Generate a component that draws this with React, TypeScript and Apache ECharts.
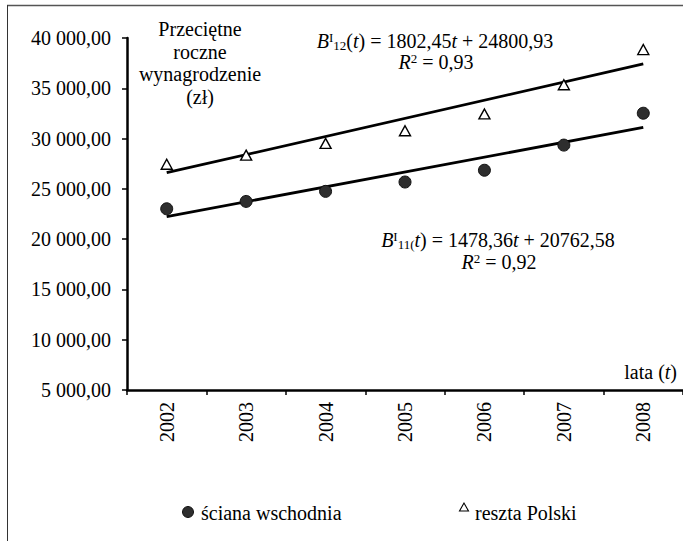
import React, { useEffect, useRef } from "react";
import * as echarts from "echarts";

const years = ["2002", "2003", "2004", "2005", "2006", "2007", "2008"];
const eastWall = [23020, 23750, 24750, 25680, 26850, 29350, 32520];
const restPoland = [27450, 28350, 29520, 30780, 32450, 35350, 38850];
const eastTrendEnds = [22241, 31111];
const restTrendEnds = [26603, 37418];
const yTicks = { min: 5000, max: 40000, step: 5000 };

const FONT = "Liberation Serif";

const fmt = (v: number) => {
  const s = Math.round(v).toString().replace(/\B(?=(\d{3})+(?!\d))/g, " ");
  return s + ",00";
};

const richBase = {
  n: { fontSize: 20, fontFamily: FONT, fill: "#000", color: "#000" },
  i: { fontSize: 20, fontFamily: FONT, fontStyle: "italic", fill: "#000", color: "#000" },
  sup: { fontSize: 13, fontFamily: FONT, fill: "#000", color: "#000", verticalAlign: "top", padding: [0, 0, 8, 0] },
  sub: { fontSize: 13, fontFamily: FONT, fill: "#000", color: "#000", verticalAlign: "bottom", padding: [6, 0, 0, 0] },
};

function txt(x: number, y: number, text: string, align = "center") {
  return {
    type: "text",
    x,
    y,
    silent: true,
    style: {
      text,
      x: 0,
      y: 0,
      align,
      textAlign: align,
      verticalAlign: "middle",
      textVerticalAlign: "middle",
      fontSize: 20,
      fontFamily: FONT,
      fill: "#000",
      rich: richBase,
    },
  };
}

export default function App() {
  const ref = useRef<HTMLDivElement>(null);
  useEffect(() => {
    document.body.style.margin = "0";
    const chart = echarts.init(ref.current!, null, { renderer: "svg" });
    const option: any = {
      animation: false,
      backgroundColor: "#fff",
      textStyle: { fontFamily: FONT },
      grid: { left: 127, top: 38, width: 566, height: 352, containLabel: false },
      xAxis: {
        type: "category",
        data: years,
        boundaryGap: true,
        axisLine: { lineStyle: { color: "#000", width: 2.5 } },
        axisTick: { show: true, inside: false, length: 5, lineStyle: { color: "#000", width: 1.5 } },
        axisLabel: { rotate: 90, margin: 12, fontSize: 20, fontFamily: FONT, color: "#000" },
        splitLine: { show: false },
      },
      yAxis: {
        type: "value",
        min: yTicks.min,
        max: yTicks.max,
        interval: yTicks.step,
        axisLine: { show: true, lineStyle: { color: "#000", width: 2.5 } },
        axisTick: { show: true, inside: false, length: 5, lineStyle: { color: "#000", width: 1.5 } },
        axisLabel: { margin: 16, fontSize: 20, fontFamily: FONT, color: "#000", formatter: fmt },
        splitLine: { show: false },
      },
      series: [
        {
          name: "trend ściana wschodnia",
          type: "line",
          data: [
            [years[0], eastTrendEnds[0]],
            [years[years.length - 1], eastTrendEnds[1]],
          ],
          symbol: "none",
          lineStyle: { color: "#000", width: 2.8 },
          z: 2,
        },
        {
          name: "trend reszta Polski",
          type: "line",
          data: [
            [years[0], restTrendEnds[0]],
            [years[years.length - 1], restTrendEnds[1]],
          ],
          symbol: "none",
          lineStyle: { color: "#000", width: 2.8 },
          z: 2,
        },
        {
          name: "ściana wschodnia",
          type: "scatter",
          data: eastWall,
          symbol: "circle",
          symbolSize: 12,
          itemStyle: { color: "#2e2e2e", borderColor: "#111", borderWidth: 1, opacity: 1 },
          z: 3,
        },
        {
          name: "reszta Polski",
          type: "scatter",
          data: restPoland,
          symbol: "triangle",
          symbolSize: [11, 10],
          itemStyle: { color: "#fff", borderColor: "#000", borderWidth: 1.4, opacity: 1 },
          z: 3,
        },
      ],
      graphic: [
        { type: "line", silent: true, shape: { x1: 7, y1: 5.5, x2: 700, y2: 5.5 }, style: { stroke: "#555", lineWidth: 1.5 } },
        { type: "line", silent: true, shape: { x1: 7.5, y1: 5, x2: 7.5, y2: 560 }, style: { stroke: "#333", lineWidth: 1 } },
        txt(200, 29, "Przeciętne"),
        txt(200, 51.5, "roczne"),
        txt(200, 74, "wynagrodzenie"),
        txt(200, 96.5, "(zł)"),
        txt(435, 41, "{i|B}{sup|I}{sub|12}{n|(}{i|t}{n|) = 1802,45}{i|t}{n| + 24800,93}"),
        txt(436, 62, "{i|R}{sup|2}{n| = 0,93}"),
        txt(498, 240, "{i|B}{sup|I}{sub|11(}{i|t}{n|) = 1478,36}{i|t}{n| + 20762,58}"),
        txt(499, 262, "{i|R}{sup|2}{n| = 0,92}"),
        txt(677, 372, "{n|lata (}{i|t}{n|)}", "right"),
        { type: "circle", silent: true, shape: { cx: 188, cy: 512, r: 5.5 }, style: { fill: "#2e2e2e", stroke: "#111", lineWidth: 1 } },
        txt(201, 513, "ściana wschodnia", "left"),
        { type: "polygon", silent: true, shape: { points: [[464, 503], [459.5, 511], [468.5, 511]] }, style: { fill: "#fff", stroke: "#000", lineWidth: 1.1 } },
        txt(475, 513, "reszta Polski", "left"),
      ],
    };
    chart.setOption(option);
    return () => chart.dispose();
  }, []);
  return <div ref={ref} style={{ width: 683, height: 541, overflow: "hidden" }} />;
}
